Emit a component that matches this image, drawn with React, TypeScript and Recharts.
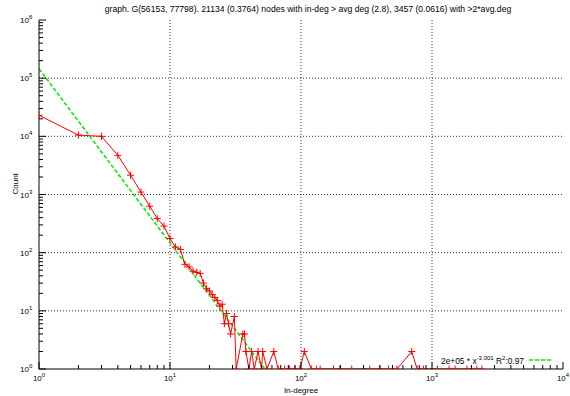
import React from 'react';
import { LineChart, Line, XAxis, YAxis, ReferenceLine, Legend } from 'recharts';

const titleText =
  'graph. G(56153, 77798). 21134 (0.3764) nodes with in-deg > avg deg (2.8), 3457 (0.0616) with >2*avg.deg';

const degrees = [
  1, 2, 3, 4, 5, 6, 7, 8, 9, 10, 11, 12, 13, 14, 15, 16, 17, 18, 19, 20, 21, 22, 23, 24, 25, 26, 27, 28, 29, 31, 32,
  36, 37, 38, 40, 42, 44, 47, 50, 51, 55, 62, 67, 75, 82, 90, 98, 106, 120, 131, 140, 177, 198, 244, 335, 400, 465,
  540, 700, 770, 860, 1100, 1350, 1500, 1850, 2200, 2400,
];
const counts = [
  23000, 10500, 10000, 4700, 2150, 1100, 630, 385, 287, 175, 125, 114, 63, 57, 48, 46, 44, 30, 24, 22, 19, 17, 15, 12,
  13, 6, 9, 6, 4, 8, 1, 4, 4, 2, 1, 2, 1, 2, 1, 2, 1, 2, 1, 1, 1, 1, 1, 2, 1, 1, 1, 1, 1, 1, 1, 1, 1, 1, 2, 1, 1, 1,
  1, 1, 1, 1, 1,
];

const fitDegrees = [1, 53];
const fitCounts = [145000, 1];

const decadesX = [1, 10, 100, 1000];
const decadesY = [1, 10, 100, 1000, 10000, 100000];
const multipliers = [1, 2, 3, 4, 5, 6, 7, 8, 9];
const xTicks = decadesX.flatMap((d) => multipliers.map((m) => m * d)).concat([10000]);
const yTicks = decadesY.flatMap((d) => multipliers.map((m) => m * d)).concat([1000000]);
const xGrid = [10, 100, 1000];
const yGrid = [10, 100, 1000, 10000, 100000];

const redData = degrees.map((x, i) => ({ x, y: counts[i] }));
const fitData = fitDegrees.map((x, i) => ({ x, y: fitCounts[i] }));

const FONT = '"Liberation Sans", Arial, sans-serif';

const isMajor = (v: number) => Math.abs(Math.log10(v) - Math.round(Math.log10(v))) < 1e-6;
const expOf = (v: number) => Math.round(Math.log10(v));

const BottomTick = (props: any) => {
  const { x, y, payload } = props;
  const v = payload.value;
  const maj = isMajor(v);
  return (
    <g>
      <line x1={x} y1={y} x2={x} y2={y - (maj ? 7 : 4)} stroke="#000" strokeWidth={1} />
      {maj && (
        <text x={x} y={y + 12} textAnchor="middle" fontFamily={FONT} fontSize={8} fill="#000">
          10
          <tspan dy={-4} fontSize={6}>
            {expOf(v)}
          </tspan>
        </text>
      )}
    </g>
  );
};

const TopTick = (props: any) => {
  const { x, y, payload } = props;
  const maj = isMajor(payload.value);
  return <line x1={x} y1={y} x2={x} y2={y + (maj ? 7 : 4)} stroke="#000" strokeWidth={1} />;
};

const LeftTick = (props: any) => {
  const { x, y, payload } = props;
  const v = payload.value;
  const maj = isMajor(v);
  return (
    <g>
      <line x1={x} y1={y} x2={x + (maj ? 7 : 4)} y2={y} stroke="#000" strokeWidth={1} />
      {maj && (
        <text x={x - 10} y={y + 3} textAnchor="end" fontFamily={FONT} fontSize={8} fill="#000">
          10
        </text>
      )}
      {maj && (
        <text x={x - 10} y={y - 1} textAnchor="start" fontFamily={FONT} fontSize={6} fill="#000">
          {expOf(v)}
        </text>
      )}
    </g>
  );
};

const RightTick = (props: any) => {
  const { x, y, payload } = props;
  const maj = isMajor(payload.value);
  return <line x1={x} y1={y} x2={x - (maj ? 7 : 4)} y2={y} stroke="#000" strokeWidth={1} />;
};

const PlusDot = (props: any) => {
  const { cx, cy } = props;
  if (cx == null || cy == null) return null;
  return (
    <path
      d={`M${cx - 3.5},${cy}H${cx + 3.5}M${cx},${cy - 3.5}V${cy + 3.5}`}
      stroke="#ff0000"
      strokeWidth={1}
      fill="none"
    />
  );
};

const LegendContent = () => (
  <div
    style={{
      fontFamily: FONT,
      fontSize: 8.4,
      color: '#000',
      display: 'flex',
      alignItems: 'center',
      whiteSpace: 'nowrap',
    }}
  >
    <span>
      2e+05 * x<sup style={{ fontSize: 6 }}>-3.001</sup>
      {'  '}R<sup style={{ fontSize: 6 }}>2</sup>:0.97
    </span>
    <svg width={24} height={6} style={{ marginLeft: 5 }}>
      <line x1={0} y1={3} x2={24} y2={3} stroke="#00ee00" strokeWidth={1.5} strokeDasharray="4 2" />
    </svg>
  </div>
);

export default function App() {
  return (
    <div style={{ position: 'absolute', left: 0, top: 0, width: 570, height: 396, background: '#fff' }}>
      <div
        style={{
          position: 'absolute',
          left: 0,
          top: 4,
          width: 616,
          textAlign: 'center',
          fontFamily: FONT,
          fontSize: 8.6,
          color: '#000',
          whiteSpace: 'nowrap',
        }}
      >
        {titleText}
      </div>
      <LineChart width={570} height={396} margin={{ top: 20, right: 7, bottom: 0, left: 0 }}>
        <XAxis
          xAxisId="bottom"
          orientation="bottom"
          dataKey="x"
          type="number"
          scale="log"
          domain={[1, 10000]}
          allowDataOverflow
          ticks={xTicks}
          interval={0}
          tickSize={0}
          tickMargin={0}
          height={27}
          tick={<BottomTick />}
          axisLine={{ stroke: '#000', strokeWidth: 1 }}
          label={{ value: 'In-degree', position: 'insideBottom', offset: 3, fontFamily: FONT, fontSize: 8, fill: '#000' }}
        />
        <XAxis
          xAxisId="top"
          orientation="top"
          dataKey="x"
          type="number"
          scale="log"
          domain={[1, 10000]}
          allowDataOverflow
          ticks={xTicks}
          interval={0}
          tickSize={0}
          tickMargin={0}
          height={0}
          tick={<TopTick />}
          axisLine={{ stroke: '#000', strokeWidth: 1 }}
        />
        <YAxis
          yAxisId="left"
          orientation="left"
          dataKey="y"
          type="number"
          scale="log"
          domain={[1, 1000000]}
          allowDataOverflow
          ticks={yTicks}
          interval={0}
          tickSize={0}
          tickMargin={0}
          width={39}
          tick={<LeftTick />}
          axisLine={{ stroke: '#000', strokeWidth: 1 }}
          label={{ value: 'Count', angle: -90, position: 'insideLeft', offset: 15, fontFamily: FONT, fontSize: 8, fill: '#000' }}
        />
        <YAxis
          yAxisId="right"
          orientation="right"
          dataKey="y"
          type="number"
          scale="log"
          domain={[1, 1000000]}
          allowDataOverflow
          ticks={yTicks}
          interval={0}
          tickSize={0}
          tickMargin={0}
          width={0}
          tick={<RightTick />}
          axisLine={{ stroke: '#000', strokeWidth: 1 }}
        />
        {xGrid.map((v) => (
          <ReferenceLine
            key={'gx' + v}
            x={v}
            xAxisId="bottom"
            yAxisId="left"
            stroke="#000"
            strokeWidth={0.8}
            strokeDasharray="1 2"
          />
        ))}
        {yGrid.map((v) => (
          <ReferenceLine
            key={'gy' + v}
            y={v}
            xAxisId="bottom"
            yAxisId="left"
            stroke="#000"
            strokeWidth={0.8}
            strokeDasharray="1 2"
          />
        ))}
        <Line
          data={fitData}
          dataKey="y"
          xAxisId="bottom"
          yAxisId="left"
          stroke="#00ee00"
          strokeWidth={1.5}
          strokeDasharray="4 2"
          dot={false}
          isAnimationActive={false}
        />
        <Line
          data={redData}
          dataKey="y"
          xAxisId="bottom"
          yAxisId="left"
          stroke="#ff0000"
          strokeWidth={1}
          dot={<PlusDot />}
          isAnimationActive={false}
        />
        <Legend
          layout="horizontal"
          verticalAlign="middle"
          align="center"
          content={<LegendContent />}
          wrapperStyle={{ position: 'absolute', left: 441, top: 355, width: 'auto' }}
        />
      </LineChart>
    </div>
  );
}
